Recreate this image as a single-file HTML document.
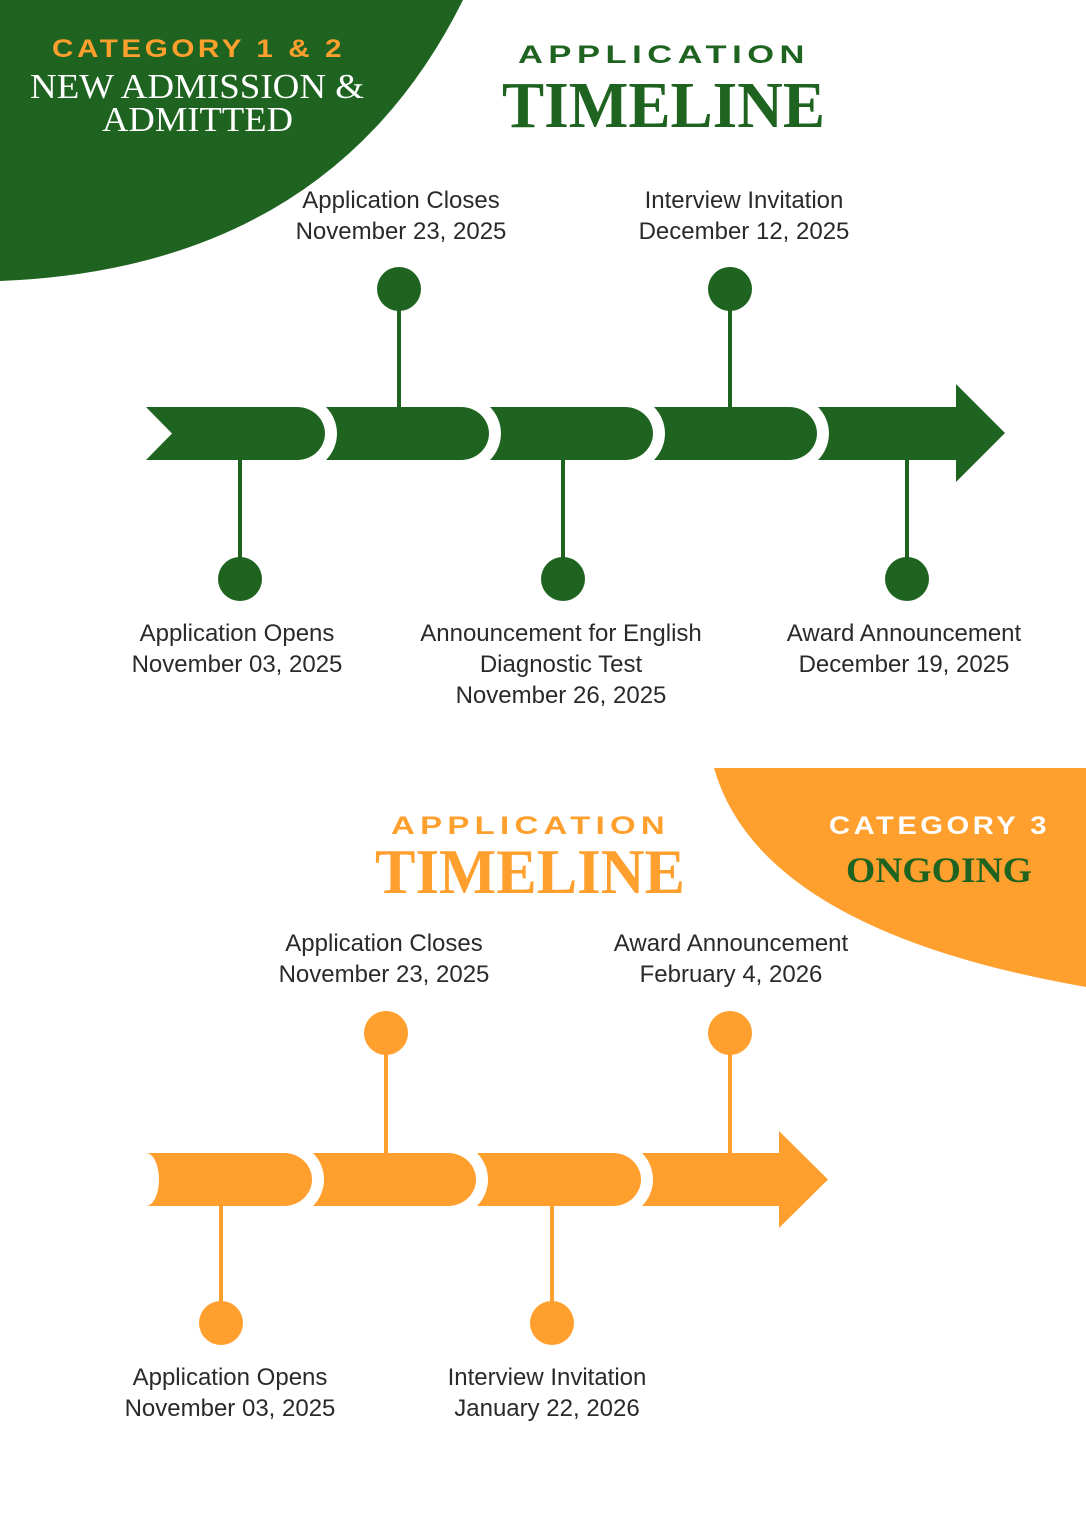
<!DOCTYPE html>
<html><head><meta charset="utf-8"><style>
html,body{margin:0;padding:0;background:#fff;width:1086px;height:1536px;overflow:hidden}
svg{display:block}
.lb{font-family:"Liberation Sans",sans-serif;font-size:24px;fill:#2a2a2a;text-anchor:middle}
.cat{font-family:"Liberation Sans",sans-serif;font-weight:bold;font-size:25px}
.ser{font-family:"Liberation Serif",serif}
</style></head><body>
<svg width="1086" height="1536" viewBox="0 0 1086 1536" xmlns="http://www.w3.org/2000/svg">
<defs>
<clipPath id="cg"><rect x="0" y="407" width="1086" height="53"/></clipPath>
<clipPath id="co"><rect x="0" y="1153" width="1086" height="53"/></clipPath>
</defs>
<path d="M0,0 L463,0 Q330,268 0,281 Z" fill="#1e6420"/>
<path d="M714,768 L1086,768 L1086,987 Q760,930 714,768 Z" fill="#ff9f2d"/>

<text x="52" y="57" class="cat" fill="#ff9f2d" style="letter-spacing:3px" textLength="293" lengthAdjust="spacingAndGlyphs">CATEGORY 1 &amp; 2</text>
<text x="30" y="98" class="ser" font-size="35" fill="#fff" textLength="334" lengthAdjust="spacingAndGlyphs">NEW ADMISSION &amp;</text>
<text x="102" y="131" class="ser" font-size="35" fill="#fff" textLength="191" lengthAdjust="spacingAndGlyphs">ADMITTED</text>

<text x="518" y="63" class="cat" font-size="32" fill="#1e6420" style="letter-spacing:4px" textLength="292" lengthAdjust="spacingAndGlyphs">APPLICATION</text>
<text x="502" y="127" class="ser" font-weight="bold" font-size="66" fill="#1e6420" textLength="323" lengthAdjust="spacingAndGlyphs">TIMELINE</text>

<g fill="#1e6420" clip-path="url(#cg)">
<rect x="780" y="407" width="180" height="53"/>
<path d="M640,407 L789,407 A28,26.5 0 0 1 789,460 L640,460 Z" stroke="#fff" stroke-width="24" paint-order="stroke"/>
<rect x="640" y="407" width="150" height="53"/>
<path d="M476,407 L625,407 A28,26.5 0 0 1 625,460 L476,460 Z" stroke="#fff" stroke-width="24" paint-order="stroke"/>
<rect x="476" y="407" width="150" height="53"/>
<path d="M312,407 L461,407 A28,26.5 0 0 1 461,460 L312,460 Z" stroke="#fff" stroke-width="24" paint-order="stroke"/>
<rect x="312" y="407" width="150" height="53"/>
<path d="M146,407 L297,407 A28,26.5 0 0 1 297,460 L146,460 Z" stroke="#fff" stroke-width="24" paint-order="stroke"/>
<rect x="146" y="407" width="152" height="53"/>
</g>
<path d="M956,384 L1005,433 L956,482 Z" fill="#1e6420"/>
<path d="M130,400 L146,400 L146,407 L172,433.5 L146,460 L146,470 L130,470 Z" fill="#fff"/>
<g stroke="#1e6420" stroke-width="4">
<line x1="399" y1="300" x2="399" y2="408"/>
<line x1="730" y1="300" x2="730" y2="408"/>
<line x1="240" y1="459" x2="240" y2="570"/>
<line x1="563" y1="459" x2="563" y2="570"/>
<line x1="907" y1="459" x2="907" y2="570"/>
</g>
<g fill="#1e6420">
<circle cx="399" cy="289" r="22"/><circle cx="730" cy="289" r="22"/>
<circle cx="240" cy="579" r="22"/><circle cx="563" cy="579" r="22"/><circle cx="907" cy="579" r="22"/>
</g>

<text class="lb" x="401" y="208">Application Closes</text>
<text class="lb" x="401" y="239">November 23, 2025</text>
<text class="lb" x="744" y="208">Interview Invitation</text>
<text class="lb" x="744" y="239">December 12, 2025</text>
<text class="lb" x="237" y="641">Application Opens</text>
<text class="lb" x="237" y="672">November 03, 2025</text>
<text class="lb" x="561" y="641">Announcement for English</text>
<text class="lb" x="561" y="672">Diagnostic Test</text>
<text class="lb" x="561" y="703">November 26, 2025</text>
<text class="lb" x="904" y="641">Award Announcement</text>
<text class="lb" x="904" y="672">December 19, 2025</text>

<text x="391" y="834" class="cat" font-size="32" fill="#ff9f2d" style="letter-spacing:4px" textLength="279" lengthAdjust="spacingAndGlyphs">APPLICATION</text>
<text x="375" y="893" class="ser" font-weight="bold" font-size="64" fill="#ff9f2d" textLength="310" lengthAdjust="spacingAndGlyphs">TIMELINE</text>
<text x="829" y="834" class="cat" font-size="26" fill="#fff" style="letter-spacing:3px" textLength="221" lengthAdjust="spacingAndGlyphs">CATEGORY 3</text>
<text x="846" y="882" class="ser" font-weight="bold" font-size="36" fill="#1e6420" textLength="186" lengthAdjust="spacingAndGlyphs">ONGOING</text>

<g fill="#ff9f2d" clip-path="url(#co)">
<rect x="620" y="1153" width="162" height="53"/>
<path d="M464,1153 L613,1153 A28,26.5 0 0 1 613,1206 L464,1206 Z" stroke="#fff" stroke-width="24" paint-order="stroke"/>
<rect x="464" y="1153" width="150" height="53"/>
<path d="M300,1153 L448,1153 A28,26.5 0 0 1 448,1206 L300,1206 Z" stroke="#fff" stroke-width="24" paint-order="stroke"/>
<rect x="300" y="1153" width="150" height="53"/>
<path d="M146,1153 L284,1153 A28,26.5 0 0 1 284,1206 L146,1206 Z" stroke="#fff" stroke-width="24" paint-order="stroke"/>
<rect x="146" y="1153" width="140" height="53"/>
</g>
<path d="M779,1131 L828,1179.5 L779,1228 Z" fill="#ff9f2d"/>
<rect x="130" y="1148" width="16" height="64" fill="#fff"/>
<path d="M146,1153 A13,26.5 0 0 1 146,1206 Z" fill="#fff"/>
<g stroke="#ff9f2d" stroke-width="4">
<line x1="386" y1="1044" x2="386" y2="1154"/>
<line x1="730" y1="1044" x2="730" y2="1154"/>
<line x1="221" y1="1205" x2="221" y2="1314"/>
<line x1="552" y1="1205" x2="552" y2="1314"/>
</g>
<g fill="#ff9f2d">
<circle cx="386" cy="1033" r="22"/><circle cx="730" cy="1033" r="22"/>
<circle cx="221" cy="1323" r="22"/><circle cx="552" cy="1323" r="22"/>
</g>
<text class="lb" x="384" y="951">Application Closes</text>
<text class="lb" x="384" y="982">November 23, 2025</text>
<text class="lb" x="731" y="951">Award Announcement</text>
<text class="lb" x="731" y="982">February 4, 2026</text>
<text class="lb" x="230" y="1385">Application Opens</text>
<text class="lb" x="230" y="1416">November 03, 2025</text>
<text class="lb" x="547" y="1385">Interview Invitation</text>
<text class="lb" x="547" y="1416">January 22, 2026</text>
</svg>
</body></html>
